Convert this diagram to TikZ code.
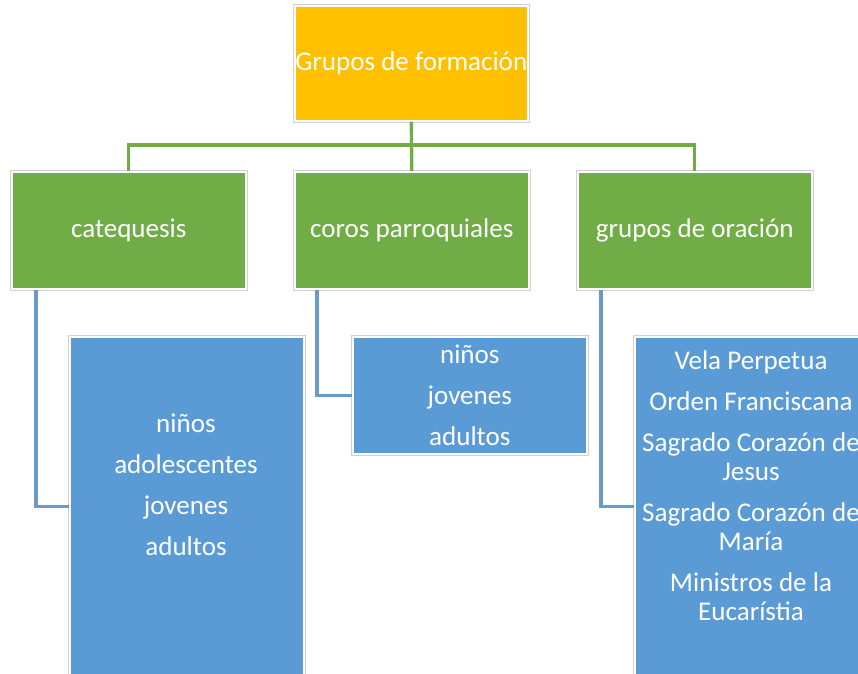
\documentclass[tikz,border=0pt]{standalone}
\usepackage{fontspec}
\setmainfont{Carlito}
\usetikzlibrary{positioning}
\definecolor{oro}{HTML}{FFC000}
\definecolor{verde}{HTML}{70AD47}
\definecolor{azul}{HTML}{5B9BD5}
\definecolor{azullinea}{HTML}{6A9AC9}
\tikzset{
  caja/.style={draw=white, line width=1.2pt, preaction={draw=black!18, line width=2.6pt},
    inner sep=0pt, anchor=north west, text=white, font=\fontsize{20.3}{21.75}\selectfont},
  raiz/.style={caja, fill=oro, minimum width=174.75pt, minimum height=86.25pt},
  rama/.style={caja, fill=verde, minimum width=175.5pt, minimum height=87.75pt},
  hoja/.style={caja, fill=azul, minimum width=175.5pt},
  texto/.style={text=white, font=\fontsize{20.3}{21.75}\selectfont, align=center, inner sep=0pt},
  linea verde/.style={draw=verde, line width=2.5pt},
  linea azul/.style={draw=azullinea, line width=2.5pt}
}
\begin{document}
\begin{tikzpicture}[x=0.75pt, y=-0.75pt]
\useasboundingbox (0,0) rectangle (858,674);
% cajas
\node[raiz] (grupos) at (294,5) {Grupos de formación};
\node[rama] (cat) at (11,171) {catequesis};
\node[rama] (coros) at (294,171) {coros parroquiales};
\node[rama] (oracion) at (577,171) {grupos de oración};
\node[hoja, minimum height=255pt] (catH) at (69,336) {};
\node[hoja, minimum height=87.75pt] (corosH) at (352,336) {};
\node[hoja, minimum height=255pt] (oracionH) at (634,336) {};
% textos de las hojas
\node[texto] (catT) at (186,485) {niños\\[9pt]adolescentes\\[9pt]jovenes\\[9pt]adultos};
\node[texto] (corosT) at (corosH.center) {niños\\[9pt]jovenes\\[9pt]adultos};
\node[texto] (oracionT) at (751,486) {Vela Perpetua\\[9pt]Orden Franciscana\\[9pt]Sagrado Corazón de\\Jesus\\[9pt]Sagrado Corazón de\\María\\[9pt]Ministros de la\\Eucarístia};
% conectores
\coordinate (bus) at (411,145);
\draw[linea verde] (grupos.south) -- (coros.north);
\draw[linea verde] (grupos.south |- bus) -| (cat.north);
\draw[linea verde] (grupos.south |- bus) -| (oracion.north);
\draw[linea azul] ([xshift=18.75pt]cat.south west) |- (catH.west);
\draw[linea azul] ([xshift=17.25pt]coros.south west) |- (corosH.west);
\draw[linea azul] ([xshift=18pt]oracion.south west) |- (oracionH.west);
\end{tikzpicture}
\end{document}
